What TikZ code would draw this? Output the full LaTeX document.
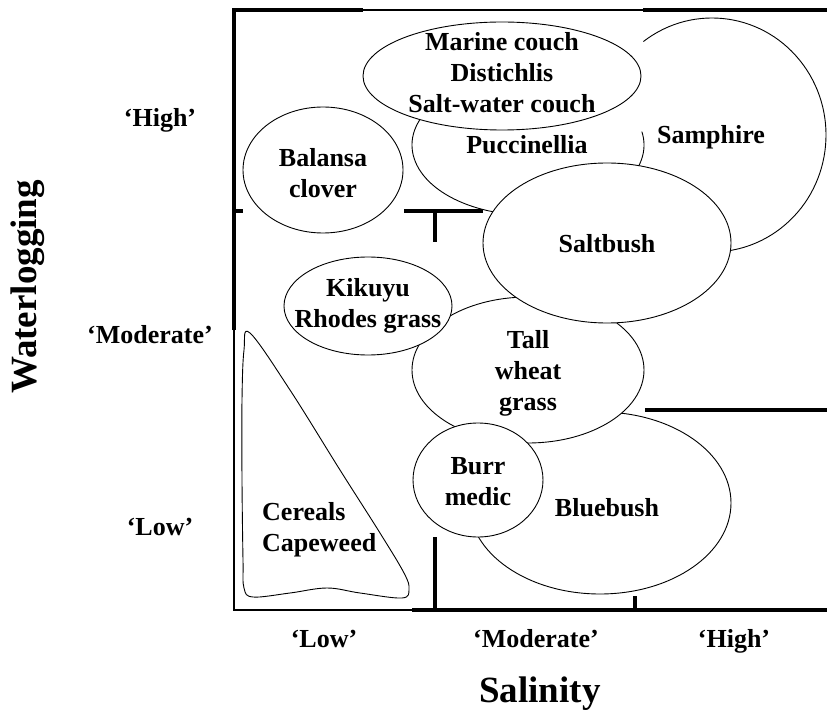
\documentclass[tikz,border=0pt]{standalone}
\usepackage{fontspec}
\setmainfont{Liberation Serif}
\begin{document}
\begin{tikzpicture}[x=1pt,y=-1pt,
  frameheavy/.style={line width=4pt},
  framelight/.style={line width=1.2pt},
  blob/.style={draw, fill=white, line width=0.9pt},
  outline/.style={draw, line width=0.9pt},
  lbl/.style={font=\bfseries\fontsize{26}{31}\selectfont, align=center, inner sep=0pt},
  axlbl/.style={font=\bfseries\fontsize{26}{30}\selectfont, inner sep=0pt, anchor=base},
  axtitle/.style={font=\bfseries\fontsize{37}{40}\selectfont, inner sep=0pt}]
\useasboundingbox (0,0) rectangle (827,711);
% frame
\draw[framelight] (234,10) -- (827,10);
\draw[framelight] (234,330) -- (234,610) -- (412,610);
\draw[frameheavy] (234,330) -- (234,10) -- (363,10);
\draw[frameheavy] (643,10) -- (827,10);
\draw[frameheavy] (232,211) -- (243,211);
\draw[frameheavy] (404,211) -- (483,211);
\draw[frameheavy] (435,211) -- (435,242);
\draw[frameheavy] (645,410) -- (827,410);
\draw[frameheavy] (412,610) -- (827,610);
\draw[frameheavy] (435,537) -- (435,610);
\draw[frameheavy] (635,596) -- (635,610);
% Samphire (visible part)
\draw[outline] (712,135) ++(-127:114 and 117) arc[start angle=-127, end angle=110, x radius=114, y radius=117];
% Puccinellia (visible part)
\draw[outline] (528,145) ++(-11:116 and 70) arc[start angle=-11, end angle=300, x radius=116, y radius=70];
% Marine couch
\draw[blob] (502,76) ellipse [x radius=139, y radius=54];
% Balansa clover
\draw[blob] (323,170) ellipse [x radius=80, y radius=63];
% Bluebush
\draw[blob] (600,503) ellipse [x radius=131, y radius=91];
% Tall wheat grass
\draw[blob] (528,370) ellipse [x radius=116, y radius=73];
% Saltbush
\draw[blob] (607,243) ellipse [x radius=124, y radius=80];
% Kikuyu
\draw[blob] (368,306) ellipse [x radius=84, y radius=49];
% Burr medic
\draw[blob] (478,480) ellipse [x radius=65, y radius=57];
% Cereals
\draw[blob] plot[smooth cycle, tension=0.6] coordinates {(250,333) (290,390) (340,470) (380,533) (404,573) (409,589) (402,598) (360,593) (327,588) (290,593) (253,597) (244,588) (243,560) (242,480) (242,400) (244,350)};
% labels
\node[lbl] (mc) at (502,73) {Marine couch\\Distichlis\\Salt-water couch};
\node[lbl] (pu) at (527,145) {Puccinellia};
\node[lbl] (sa) at (711,137) {Samphire};
\node[lbl] (bc) at (323,173) {Balansa\\clover};
\node[lbl] (sb) at (607,244) {Saltbush};
\node[lbl] (ki) at (368,306) {Kikuyu\\Rhodes grass};
\node[lbl] (tw) at (528,373) {Tall\\wheat\\grass};
\node[lbl] (bm) at (478,482) {Burr\\medic};
\node[lbl] (bb) at (607,508) {Bluebush};
\node[lbl, align=left, anchor=west] (ce) at (262,530) {Cereals\\Capeweed};
% axes labels
\node[axlbl] (wh) at (160,127) {‘High’};
\node[axlbl] (wm) at (150,343) {‘Moderate’};
\node[axlbl] (wlo) at (160,535) {‘Low’};
\node[axtitle, rotate=90] (wt) at (28,287) {Waterlogging};
\node[axlbl] (sl) at (324,647) {‘Low’};
\node[axlbl] (sm) at (536,647) {‘Moderate’};
\node[axlbl] (sh) at (734,647) {‘High’};
\node[axtitle, anchor=base] (st) at (540,702) {Salinity};
\end{tikzpicture}
\end{document}
